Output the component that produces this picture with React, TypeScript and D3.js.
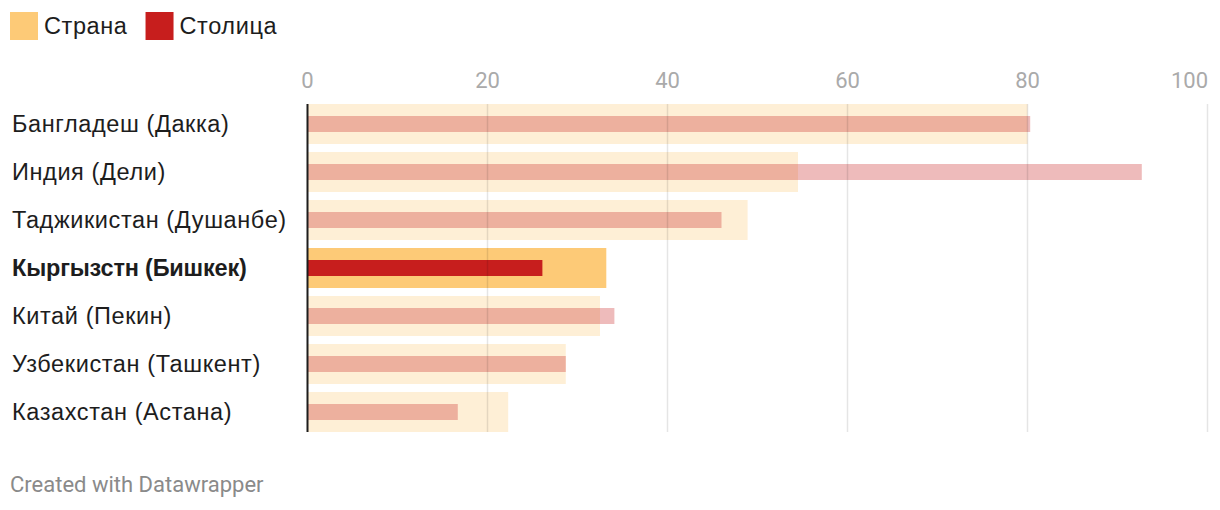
import { useRef, useEffect } from 'react';
import * as d3 from 'd3';

const countries = [
  'Бангладеш (Дакка)',
  'Индия (Дели)',
  'Таджикистан (Душанбе)',
  'Кыргызстн (Бишкек)',
  'Китай (Пекин)',
  'Узбекистан (Ташкент)',
  'Казахстан (Астана)',
];
const countryValues = [80, 54.5, 48.9, 33.2, 32.5, 28.7, 22.3];
const capitalValues = [80.3, 92.7, 46, 26.1, 34.1, 28.7, 16.7];
const highlighted = 'Кыргызстн (Бишкек)';
const ticks = [0, 20, 40, 60, 80, 100];
const legendItems = ['Страна', 'Столица'];

const W = 1220;
const H = 510;
const COUNTRY = '#fdca77';
const CAPITAL = '#c71e1d';
const LABEL_FONT = '"Liberation Sans", Arial, sans-serif';
const FONT = 'Roboto, sans-serif';

export default function App() {
  const svgRef = useRef<SVGSVGElement>(null);

  useEffect(() => {
    const svg = d3.select(svgRef.current);
    if (!svg.node()) return;
    svg.selectAll('*').remove();

    const x = d3.scaleLinear().domain([0, 100]).range([307.5, 1207.5]);
    const y = d3.scaleBand().domain(countries).range([100, 436]).paddingInner(8 / 48).paddingOuter(4 / 48);
    const bandH = y.bandwidth();

    // legend
    const legend = svg.append('g');
    let lx = 10;
    legendItems.forEach((name, i) => {
      legend.append('rect')
        .attr('x', lx).attr('y', 12).attr('width', 28).attr('height', 28)
        .attr('fill', i === 0 ? COUNTRY : CAPITAL);
      const t = legend.append('text')
        .attr('x', lx + 34).attr('y', 34)
        .style('font-family', LABEL_FONT).style('font-size', '23.5px')
        .style('letter-spacing', '0.6px').style('fill', '#1d1d1d')
        .text(name);
      const w = (t.node() as SVGTextElement).getComputedTextLength();
      lx += 34 + w + 18;
    });

    // tick labels
    svg.append('g').selectAll('text')
      .data(ticks).enter().append('text')
      .attr('x', d => x(d) + (d === 100 ? 0.5 : 0))
      .attr('y', 88)
      .attr('text-anchor', d => d === 100 ? 'end' : 'middle')
      .style('font-family', FONT).style('font-size', '22px').style('fill', '#aaaaaa')
      .text(d => d);

    // bars
    const rows = svg.append('g');
    countries.forEach((c, i) => {
      const hl = c === highlighted;
      const y0 = y(c) || 0;
      rows.append('rect')
        .attr('x', x(0)).attr('y', y0)
        .attr('width', x(countryValues[i]) - x(0)).attr('height', bandH)
        .attr('fill', COUNTRY).attr('fill-opacity', hl ? 1 : 0.3);
      rows.append('rect')
        .attr('x', x(0)).attr('y', y0 + bandH * 0.3)
        .attr('width', x(capitalValues[i]) - x(0)).attr('height', bandH * 0.4)
        .attr('fill', CAPITAL).attr('fill-opacity', hl ? 1 : 0.3);
      rows.append('text')
        .attr('x', 12).attr('y', y0 + bandH / 2 + 8)
        .style('font-family', LABEL_FONT).style('font-size', '23.5px')
        .style('letter-spacing', hl ? '-0.2px' : '0.6px')
        .style('font-weight', hl ? 'bold' : 'normal')
        .style('fill', '#1d1d1d')
        .text(c);
    });

    // grid
    svg.append('g').selectAll('line')
      .data(ticks.filter(d => d > 0)).enter().append('line')
      .attr('x1', d => x(d)).attr('x2', d => x(d))
      .attr('y1', 104).attr('y2', 432)
      .attr('stroke', 'rgba(0,0,0,0.1)').attr('stroke-width', 1.5);

    svg.append('line')
      .attr('x1', x(0)).attr('x2', x(0))
      .attr('y1', 104).attr('y2', 432)
      .attr('stroke', '#1d1d1d').attr('stroke-width', 2);

    svg.append('text')
      .attr('x', 10).attr('y', 492)
      .style('font-family', FONT).style('font-size', '22px').style('fill', '#8a8a8a')
      .text('Created with Datawrapper');
  }, []);

  return (
    <svg ref={svgRef} width={W} height={H}
      style={{ position: 'absolute', left: 0, top: 0, background: '#fff' }} />
  );
}
